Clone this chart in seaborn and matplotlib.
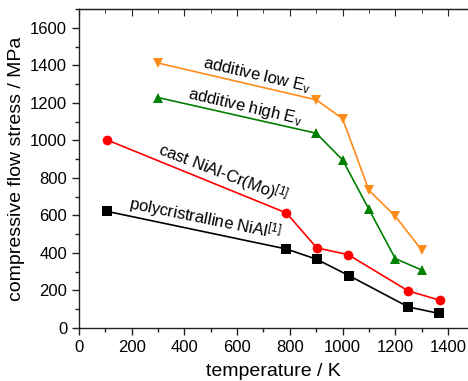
import matplotlib
matplotlib.use("Agg")
import matplotlib.pyplot as plt
from matplotlib.ticker import MultipleLocator
import seaborn as sns
import pandas as pd

sns.set_style("ticks")
plt.rcParams['font.family'] = ['Liberation Sans', 'DejaVu Sans']
plt.rcParams['mathtext.fontset'] = 'custom'
plt.rcParams['mathtext.rm'] = 'Liberation Sans'
plt.rcParams['mathtext.it'] = 'Liberation Sans:italic'
plt.rcParams['text.color'] = 'black'
plt.rcParams['axes.labelcolor'] = 'black'
plt.rcParams['xtick.color'] = 'black'
plt.rcParams['ytick.color'] = 'black'

# Data
poly_T = [105, 787, 902, 1026, 1250, 1365]
poly_s = [622, 421, 366, 278, 112, 78]
cast_T = [105, 787, 902, 1021, 1250, 1370]
cast_s = [1003, 613, 427, 391, 197, 148]
high_T = [300, 900, 1000, 1100, 1200, 1300]
high_s = [1228, 1038, 896, 633, 370, 309]
low_T = [300, 900, 1000, 1100, 1200, 1300]
low_s = [1412, 1216, 1116, 734, 596, 416]

series = [
    (poly_T, poly_s, "black", "s", 6.5),
    (cast_T, cast_s, "#ff0000", "o", 7),
    (high_T, high_s, "#008000", "^", 7.5),
    (low_T, low_s, "#ff8c1a", "v", 7.5),
]

fig = plt.figure(figsize=(4.68, 3.81), dpi=100)
ax = fig.add_axes([79/468, 53/381, 389/468, 319/381])

for T, s, c, m, ms in series:
    df = pd.DataFrame({"T": T, "s": s})
    sns.lineplot(data=df, x="T", y="s", ax=ax, color=c, marker=m,
                 markersize=ms, markeredgewidth=0, linewidth=1.2, sort=False)

ax.set_xlim(0, 1476)
ax.set_ylim(0, 1700)
ax.xaxis.set_major_locator(MultipleLocator(200))
ax.xaxis.set_minor_locator(MultipleLocator(100))
ax.yaxis.set_major_locator(MultipleLocator(200))
ax.yaxis.set_minor_locator(MultipleLocator(100))
ax.tick_params(axis='both', which='major', labelsize=12, length=5, width=1, color='#222222', direction='out')
ax.tick_params(axis='both', which='minor', length=3, width=1, color='#222222', direction='out')
ax.tick_params(top=False, right=False, which='both')
for sp in ax.spines.values():
    sp.set_linewidth(1.0)
    sp.set_color('#222222')
ax.spines['right'].set_visible(False)
sx = ax.secondary_xaxis('top')
sx.xaxis.set_major_locator(MultipleLocator(200))
sx.xaxis.set_minor_locator(MultipleLocator(100))
sx.tick_params(which='both', direction='in', labeltop=False, color='#222222')
sx.tick_params(which='major', length=5)
sx.tick_params(which='minor', length=3)

ax.set_xlabel("temperature / K", fontsize=14, labelpad=6)
ax.set_ylabel("compressive flow stress / MPa", fontsize=14, labelpad=4)

tk = dict(fontsize=12, ha='center', va='center', color='black')
ax.text(676, 1349, r"additive low E$_\mathrm{v}$", rotation=-13, **tk)
ax.text(630, 1179, r"additive high E$_\mathrm{v}$", rotation=-13, **tk)
ax.text(546, 827, r"cast NiAl-Cr(Mo)$^{\mathit{[1]}}$", rotation=-21, **tk)
ax.text(478, 587, r"polycristralline NiAl$^{\mathit{[1]}}$", rotation=-11.5, **tk)

fig.savefig("out.png", dpi=100)
